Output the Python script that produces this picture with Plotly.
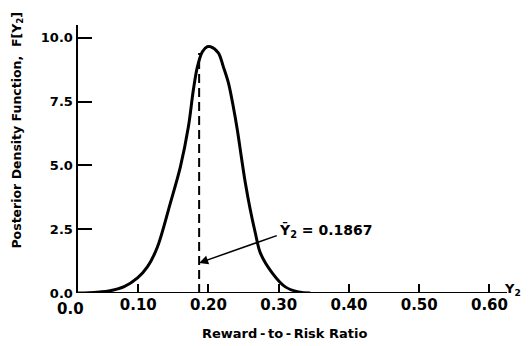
import plotly.graph_objects as go

# Curve (reward-to-risk ratio, posterior density)
curve_x = [0.0135, 0.03, 0.045, 0.058, 0.08, 0.099, 0.113, 0.1273, 0.1458, 0.160,
           0.1714, 0.1785, 0.1842, 0.1913, 0.1984, 0.2027, 0.214, 0.2212, 0.2283,
           0.2354, 0.2411, 0.2468, 0.2525, 0.2596, 0.2667, 0.2738, 0.2909, 0.3094,
           0.328, 0.345]
curve_y = [0.0, 0.01, 0.04, 0.08, 0.25, 0.59, 1.02, 1.80, 3.53, 4.94,
           6.51, 7.96, 8.86, 9.45, 9.65, 9.65, 9.41, 8.86, 8.24,
           7.29, 6.39, 5.33, 4.31, 3.25, 2.35, 1.57, 0.78, 0.24,
           0.04, 0.0]

mean_value = 0.1867
mean_line_top = 9.4
arrow_tail = (0.2994, 2.27)
arrow_head_y = 1.18

x_tickvals = [0.1, 0.2, 0.3, 0.4, 0.5, 0.6]
x_ticktext = ["0.10", "0.20", "0.30", "0.40", "0.50", "0.60"]
y_tickvals = [0.0, 2.5, 5.0, 7.5, 10.0]
y_ticktext = ["0.0", "2.5", "5.0", "7.5", "10.0"]

x_range = [0.0, 0.625]
y_range = [0.0, 10.5]
y_axis_at = 0.0135

FONT = "DejaVu Sans"
PAGE_OFF = 8  # default body margin of the html page

fig = go.Figure()
fig.add_trace(go.Scatter(x=curve_x, y=curve_y, mode="lines",
                         line=dict(color="black", width=3, shape="spline", smoothing=0.9),
                         hoverinfo="skip", showlegend=False))
fig.add_trace(go.Scatter(x=[mean_value, mean_value], y=[0, mean_line_top], mode="lines",
                         line=dict(color="black", width=2, dash="9px,5px"),
                         hoverinfo="skip", showlegend=False))

# x axis line (starts at the y axis)
fig.add_shape(type="line", xref="x", yref="y", x0=y_axis_at, x1=x_range[1], y0=0, y1=0,
              line=dict(color="black", width=2))

fig.update_xaxes(range=x_range, showgrid=False, zeroline=False, showline=False,
                 automargin=False,
                 tickmode="array", tickvals=x_tickvals, ticktext=x_ticktext,
                 ticks="inside", ticklen=9, tickwidth=1.5, tickcolor="black",
                 tickfont=dict(family=FONT, size=15, color="black", weight="bold"),
                 ticklabelstandoff=1)
fig.update_yaxes(range=y_range, showgrid=False, zeroline=False, showline=True,
                 automargin=False,
                 linecolor="black", linewidth=2,
                 anchor="free", position=(y_axis_at - x_range[0]) / (x_range[1] - x_range[0]),
                 tickmode="array", tickvals=y_tickvals, ticktext=y_ticktext,
                 ticks="inside", ticklen=14, tickwidth=1.5, tickcolor="black",
                 tickfont=dict(family=FONT, size=13, color="black", weight="bold"),
                 ticklabelstandoff=1)

annots = [
    dict(x=0.0, y=0, xref="x", yref="y", text="0.0", showarrow=False, xshift=2,
         yshift=-16, font=dict(family=FONT, size=15, color="black", weight="bold")),
    dict(x=(523 - 67.5) / 439.5, y=0, xref="paper", yref="y", text="Y<sub>2</sub>", showarrow=False,
         xanchor="right", yshift=4, font=dict(family=FONT, size=13, color="black", weight="bold")),
    dict(x=0.297, y=2.45, xref="x", yref="y", text="\u0232<sub>2</sub> = 0.1867", showarrow=False,
         xanchor="left", yanchor="middle", font=dict(family=FONT, size=14, color="black", weight="bold")),
    dict(x=mean_value, y=arrow_head_y, xref="x", yref="y", ax=arrow_tail[0], ay=arrow_tail[1],
         axref="x", ayref="y", text="", showarrow=True, arrowhead=2, arrowsize=1.2,
         arrowwidth=1.5, arrowcolor="black"),
    dict(x=(284 - 67.5) / 439.5, y=-(333 - 293) / 268, xref="paper", yref="paper",
         text="Reward\u2009-\u2009to\u2009-\u2009Risk Ratio",
         showarrow=False, yanchor="middle", xanchor="center",
         font=dict(family=FONT, size=13, color="black", weight="bold")),
    dict(x=-(67.5 - 17) / 439.5, y=(293 - 130) / 268, xref="paper", yref="paper",
         text="Posterior Density Function,  F[Y<sub>2</sub>]", textangle=-90,
         showarrow=False, xanchor="center", yanchor="middle",
         font=dict(family=FONT, size=12.5, color="black", weight="bold")),
]
fig.update_layout(width=531 - 2 * PAGE_OFF, height=346 - PAGE_OFF,
                  margin=dict(l=67.5 - PAGE_OFF, r=24 - PAGE_OFF, t=25 - PAGE_OFF, b=53),
                  plot_bgcolor="white", paper_bgcolor="white", annotations=annots)

fig.write_html("out.html")
